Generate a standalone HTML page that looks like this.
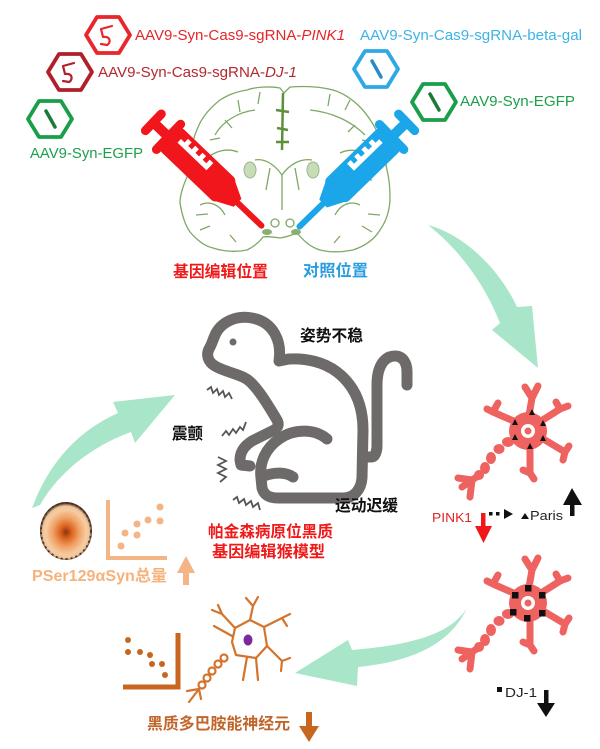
<!DOCTYPE html>
<html><head><meta charset="utf-8">
<style>
html,body{margin:0;padding:0;background:#fff;}
svg{display:block;}
text{font-family:"Liberation Sans","Noto Sans CJK SC",sans-serif;}
</style></head><body>
<svg width="600" height="749" viewBox="0 0 600 749" xmlns="http://www.w3.org/2000/svg">
<defs>
<radialGradient id="cellg" cx="50%" cy="52%" r="50%">
 <stop offset="0" stop-color="#8a3410"/>
 <stop offset="0.22" stop-color="#dc621e"/>
 <stop offset="0.5" stop-color="#f0a064"/>
 <stop offset="0.78" stop-color="#f6cca2"/>
 <stop offset="0.9" stop-color="#f0c49a"/>
 <stop offset="1" stop-color="#4e3426"/>
</radialGradient>
<g id="syr">
 <rect x="-4" y="-16" width="9" height="32" rx="4.5"/>
 <rect x="0" y="-5" width="24" height="10"/>
 <rect x="17" y="-22" width="9" height="44" rx="4.5"/>
 <rect x="22" y="-16" width="80" height="32" rx="6"/>
 <polygon points="96,-16 117,-5.5 117,5.5 96,16"/>
 <rect x="112" y="-3" width="41" height="6" rx="3"/>
 <path d="M32,-2 L72,-2 L72,-12 L67,-12 L67,-7 L62,-7 L62,-12 L57,-12 L57,-7 L52,-7 L52,-12 L47,-12 L47,-7 L42,-7 L42,-12 L37,-12 L37,-7 L32,-7 Z" fill="#fff"/>
</g>
<g id="neuron">
 <g stroke="#ee6260" stroke-width="7" stroke-linecap="round" stroke-linejoin="round" fill="none">
  <path d="M0,-10 L4,-33 M4,-33 L-3,-44 M4,-33 L10,-45"/>
  <path d="M-10,-8 L-35,-19 M-35,-19 L-41,-22 M-35,-19 L-30,-28"/>
  <path d="M10,-8 L32,-22 M32,-22 L28,-29 M32,-22 L40,-25"/>
  <path d="M12,6 L37,21 M37,21 L41,15 M37,21 L35,29"/>
  <path d="M2,12 L2,42 M2,42 L-5,39 M2,42 L6,48"/>
  <path d="M-50,45 L-56,49 M-56,49 L-70,47 M-56,49 L-66,56 M-56,49 L-58,66"/>
 </g>
 <g fill="#ee6260">
  <circle r="19"/>
  <ellipse cx="-20" cy="11" rx="6" ry="5"/>
  <ellipse cx="-29" cy="18" rx="5.5" ry="5"/>
  <ellipse cx="-37" cy="27" rx="5" ry="6"/>
  <ellipse cx="-43" cy="37" rx="5" ry="6"/>
  <ellipse cx="-49" cy="44" rx="5" ry="5"/>
 </g>
 <circle r="7" fill="#fff"/>
 <circle r="3.5" fill="#ee6260"/>
</g>
</defs>
<rect width="600" height="749" fill="#fff"/>

<!-- Brain -->
<g fill="none" stroke="#7fa866" stroke-width="1.3" stroke-linejoin="round">
 <path d="M280,88 C270,86 255,87 247,90 C235,92 228,95 220,100 C210,108 204,115 200,123 C195,133 192,143 190,153 C188,162 187,170 187,177 C183,186 180,195 180,203 C182,215 185,225 190,232 C197,240 204,246 213,248 C225,252 238,252 247,250 C255,246 260,241 263,237 C268,236 274,237 280,238 C287,237 292,235 297,233 C303,240 310,247 320,250 C332,253 343,252 353,250 C365,246 374,240 380,230 C387,220 390,208 390,197 C390,188 389,178 387,170 C385,158 383,147 380,137 C374,125 368,115 360,107 C352,99 343,93 333,90 C318,86 303,86 290,87 L284,93 Z"/>
 <path d="M215,135 C222,122 238,112 255,110 M205,160 C215,150 228,148 238,152 M310,110 C330,112 350,120 365,135 M375,160 C365,150 350,148 340,153"/>
 <path d="M255,160 C265,158 275,165 282,175 C289,165 300,158 312,160 M282,175 L282,210 M270,168 L266,190 M295,168 L299,190"/>
 <path d="M200,205 C210,200 220,205 225,215 M360,205 C350,200 340,205 335,215 M200,180 C212,178 222,186 228,196 M372,180 C360,178 350,186 344,196"/>
 <path d="M238,100 L240,112 M260,92 L258,104 M330,94 L328,106 M350,100 L345,110 M196,215 L208,214 M380,215 L368,214"/>
 <path d="M225,120 L232,128 M210,140 L220,138 M355,125 L348,132 M372,142 L362,140 M200,230 L210,226 M372,232 L362,226 M230,235 L236,242 M340,236 L334,243"/>
 <circle cx="275" cy="223" r="4"/>
 <circle cx="290" cy="223" r="4"/>
</g>
<path d="M283,93 L282,150 M276,110 L289,112 M277,128 L288,130 M276,142 L289,142" stroke="#5e8f3a" stroke-width="2.5" fill="none"/>
<ellipse cx="250" cy="170" rx="6" ry="8" fill="#c8dcb8" stroke="#9ab88a" stroke-width="1"/>
<ellipse cx="313" cy="170" rx="6" ry="8" fill="#c8dcb8" stroke="#9ab88a" stroke-width="1"/>
<ellipse cx="267" cy="232" rx="5" ry="3" fill="#8ab070"/>
<ellipse cx="296" cy="232" rx="5" ry="3" fill="#8ab070"/>

<!-- Syringes -->
<use href="#syr" fill="#f0161c" transform="translate(153,122) rotate(43.7)"/>
<use href="#syr" fill="#1aa6e8" transform="translate(407,122) rotate(135.8) scale(1,-1)"/>

<!-- Hexagons -->
<g fill="none" stroke-width="3.8" stroke-linejoin="round">
 <polygon points="86,35 97,17 119,17 130,35 119,53 97,53" stroke="#e8262b"/>
 <polygon points="48,72 59,54 81,54 92,72 81,90 59,90" stroke="#b0202a"/>
 <polygon points="28,119 39,101 61,101 72,119 61,137 39,137" stroke="#1a9e4a"/>
 <polygon points="354,69 365,51 387,51 398,69 387,87 365,87" stroke="#2fa9e6"/>
 <polygon points="412,102 423,84 445,84 456,102 445,120 423,120" stroke="#1a9e4a"/>
</g>
<g fill="none" stroke-linecap="round" stroke-linejoin="round">
 <path d="M112,26 L101,29 L103,37 C111,36 111,43 107,45 L101,44" stroke="#e8262b" stroke-width="2.2"/>
 <path d="M74,63 L63,66 L65,74 C73,73 73,80 69,82 L63,81" stroke="#b0202a" stroke-width="2.2"/>
 <path d="M46,111 L55,127" stroke="#1a7a3a" stroke-width="3.5"/>
 <path d="M372,61 L381,77" stroke="#2a8ac8" stroke-width="3.5"/>
 <path d="M430,94 L439,110" stroke="#1a7a3a" stroke-width="3.5"/>
</g>

<!-- Top texts -->
<text x="135" y="40" font-size="14.5" fill="#e4262b" textLength="210" lengthAdjust="spacingAndGlyphs">AAV9-Syn-Cas9-sgRNA-<tspan font-style="italic">PINK1</tspan></text>
<text x="98" y="77" font-size="14.5" fill="#b3282d" textLength="199" lengthAdjust="spacingAndGlyphs">AAV9-Syn-Cas9-sgRNA-<tspan font-style="italic">DJ-1</tspan></text>
<text x="30" y="158" font-size="14.5" fill="#1e9e4c" textLength="113" lengthAdjust="spacingAndGlyphs">AAV9-Syn-EGFP</text>
<text x="360" y="40" font-size="14.5" fill="#3fb2e5" textLength="222" lengthAdjust="spacingAndGlyphs">AAV9-Syn-Cas9-sgRNA-beta-gal</text>
<text x="460" y="106" font-size="14.5" fill="#1e9e4c" textLength="115" lengthAdjust="spacingAndGlyphs">AAV9-Syn-EGFP</text>

<text x="173" y="277" font-size="16" font-weight="bold" fill="#f01818" textLength="95" lengthAdjust="spacingAndGlyphs">基因编辑位置</text>
<text x="303" y="276" font-size="16" font-weight="bold" fill="#2a9de0" textLength="65" lengthAdjust="spacingAndGlyphs">对照位置</text>

<!-- Green arrows -->
<g fill="#a8e5c9">
 <path d="M428,225 C465,235 500,270 517,307 L532,306 L538,368 L492,330 L500,323 C485,285 460,250 428,225 Z"/>
 <path d="M32,508 C50,460 80,430 118,413 L113,402 L175,395 L135,443 L131,432 C95,445 60,470 40,505 Z"/>
 <path d="M467,608 C450,635 410,645 352,650 L348,640 L295,673 L357,686 L358,667 C410,662 450,645 467,608 Z"/>
</g>

<!-- Monkey -->
<g fill="none" stroke="#6f6a6a" stroke-width="11" stroke-linecap="round" stroke-linejoin="round">
 <path d="M289,359 L279,361 C282,342 274,322 252,318 C236,315 222,322 216,333 C213,339 212,344 209,349 C206,355 208,362 215,366 C225,372 240,374 248,380 C258,388 268,405 277,420 C280,426 277,429 270,432 L252,441 C244,446 240,452 240,460 L241,465 L250,466"/>
 <path d="M327,439 C314,428 293,429 279,439 C266,448 259,462 261,478 L262,488 C264,495 269,498 278,498 L343,498 C354,498 361,490 362,478 L363,430 C363,404 354,385 337,372 C324,362 306,358 289,359"/>
 <path d="M363,457 L371,457 C375,457 377,452 377,445 L377,385 C377,365 385,356 395,356 C403,356 407,363 407,372 L407,385"/>
 <path d="M264,476 C274,472 286,472 293,477"/>
</g>
<circle cx="233" cy="342" r="3.5" fill="#6f6a6a"/>
<g fill="none" stroke="#555" stroke-width="1.8" stroke-linejoin="miter">
 <polyline points="207,390 211,387 213,393 217,389 219,395 223,391 225,397 229,393 232,399"/>
 <polyline points="222,436 226,431 229,435 233,429 236,433 240,427 243,430 246,422"/>
 <polyline points="218,457 226,461 218,465 226,469 218,473 226,477 220,482"/>
 <polyline points="233,500 237,497 239,503 244,499 246,505 251,501 253,507 258,503 260,510"/>
</g>

<text x="300" y="341" font-size="16" font-weight="bold" fill="#111" textLength="63" lengthAdjust="spacingAndGlyphs">姿势不稳</text>
<text x="172" y="439" font-size="16" font-weight="bold" fill="#111" textLength="31" lengthAdjust="spacingAndGlyphs">震颤</text>
<text x="335" y="511" font-size="16" font-weight="bold" fill="#111" textLength="63" lengthAdjust="spacingAndGlyphs">运动迟缓</text>
<text x="208" y="537" font-size="16" font-weight="bold" fill="#f01818" textLength="125" lengthAdjust="spacingAndGlyphs">帕金森病原位黑质</text>
<text x="212" y="557" font-size="16" font-weight="bold" fill="#f01818" textLength="113" lengthAdjust="spacingAndGlyphs">基因编辑猴模型</text>

<!-- Right neurons -->
<use href="#neuron" transform="translate(528,431)"/>
<g fill="#111">
 <polygon points="532,409 535,415 529,415"/>
 <polygon points="515,419 518,425 512,425"/>
 <polygon points="543,420 546,426 540,426"/>
 <polygon points="515,434 518,440 512,440"/>
 <polygon points="543,435 546,441 540,441"/>
 <polygon points="530,443 533,449 527,449"/>
</g>
<use href="#neuron" transform="translate(528,603)"/>
<g fill="#111">
 <rect x="525" y="585" width="6.5" height="6.5"/>
 <rect x="512" y="592" width="6.5" height="6.5"/>
 <rect x="539" y="592" width="6.5" height="6.5"/>
 <rect x="510" y="609" width="6.5" height="6.5"/>
 <rect x="539" y="610" width="6.5" height="6.5"/>
 <rect x="524" y="615" width="6.5" height="6.5"/>
</g>

<text x="432" y="522" font-size="13" fill="#e0242a" textLength="40" lengthAdjust="spacingAndGlyphs">PINK1</text>
<g fill="#f01818">
 <rect x="481" y="513" width="4.5" height="15"/>
 <polygon points="475,526 492,526 483.5,543"/>
</g>
<g fill="#111">
 <rect x="489" y="512" width="3.5" height="3.5"/>
 <rect x="496" y="512" width="3.5" height="3.5"/>
 <polygon points="504,509 513,514 504,519"/>
 <polygon points="525,513 529,519 521,519"/>
 <rect x="570" y="502" width="4.5" height="14"/>
 <polygon points="563,505 582,505 572,488"/>
</g>
<text x="530" y="520" font-size="13" fill="#222" textLength="33" lengthAdjust="spacingAndGlyphs">Paris</text>

<rect x="497" y="687" width="5" height="5" fill="#111"/>
<text x="505" y="697" font-size="13" fill="#222" textLength="32" lengthAdjust="spacingAndGlyphs">DJ-1</text>
<g fill="#111">
 <rect x="544" y="690" width="4.5" height="15"/>
 <polygon points="537,703 555,703 546,717"/>
</g>

<!-- PSer129 section -->
<ellipse cx="66" cy="531" rx="26" ry="29" fill="url(#cellg)"/>
<ellipse cx="66" cy="531" rx="25" ry="28" fill="none" stroke="#4a3020" stroke-width="1.8" stroke-dasharray="2 3"/>
<path d="M108,500 L108,558 L167,558" fill="none" stroke="#f3b486" stroke-width="4"/>
<g fill="#f3b486">
 <circle cx="160" cy="507" r="3.5"/>
 <circle cx="148" cy="520" r="3.5"/>
 <circle cx="160" cy="521" r="3.5"/>
 <circle cx="137" cy="524" r="3.5"/>
 <circle cx="125" cy="533" r="3.5"/>
 <circle cx="137" cy="535" r="3.5"/>
 <circle cx="121" cy="546" r="3.5"/>
 <rect x="183" y="571" width="6" height="14"/>
 <polygon points="177,573 195,573 186,556"/>
</g>
<text x="32" y="581" font-size="16" font-weight="bold" fill="#f5b27a" textLength="135" lengthAdjust="spacingAndGlyphs">PSer129αSyn总量</text>

<!-- Bottom-left dopaminergic neuron -->
<path d="M178,633 L178,687 L123,687" fill="none" stroke="#c8651f" stroke-width="5"/>
<g fill="#c8651f">
 <circle cx="128" cy="640" r="3"/>
 <circle cx="128" cy="652" r="3"/>
 <circle cx="140" cy="652" r="3"/>
 <circle cx="150" cy="655" r="3"/>
 <circle cx="152" cy="664" r="3"/>
 <circle cx="162" cy="664" r="3"/>
 <circle cx="165" cy="675" r="3"/>
</g>
<g fill="none" stroke="#d4742c" stroke-width="2.2" stroke-linecap="round" stroke-linejoin="round">
 <polygon points="235,628 250,620 264,627 267,646 256,658 236,655 232,642"/>
 <path d="M235,628 L222,614 M222,614 L218,605 M222,614 L212,610 M232,636 L214,626"/>
 <path d="M250,620 L253,606 M253,606 L246,598 M253,606 L258,597"/>
 <path d="M264,627 L282,618 M282,618 L290,614 M282,618 L287,626"/>
 <path d="M267,646 L282,661 M282,661 L290,658 M282,661 L281,671"/>
 <path d="M256,658 L258,680"/>
 <path d="M247,657 L243,680"/>
 <circle cx="224" cy="658" r="3.5"/>
 <circle cx="218" cy="664" r="3.5"/>
 <circle cx="212" cy="671" r="3.5"/>
 <circle cx="207" cy="678" r="3.5"/>
 <circle cx="202" cy="685" r="3.5"/>
 <path d="M199,689 L187,691 M199,689 L189,702 M199,689 L201,699"/>
</g>
<ellipse cx="248" cy="640" rx="4.5" ry="5.5" fill="#7a2a9a"/>
<text x="147" y="729" font-size="16" font-weight="bold" fill="#c0662a" textLength="143" lengthAdjust="spacingAndGlyphs">黑质多巴胺能神经元</text>
<g fill="#c8651f">
 <rect x="306" y="712" width="6" height="16"/>
 <polygon points="299,726 319,726 309,742"/>
</g>
</svg>
</body></html>
